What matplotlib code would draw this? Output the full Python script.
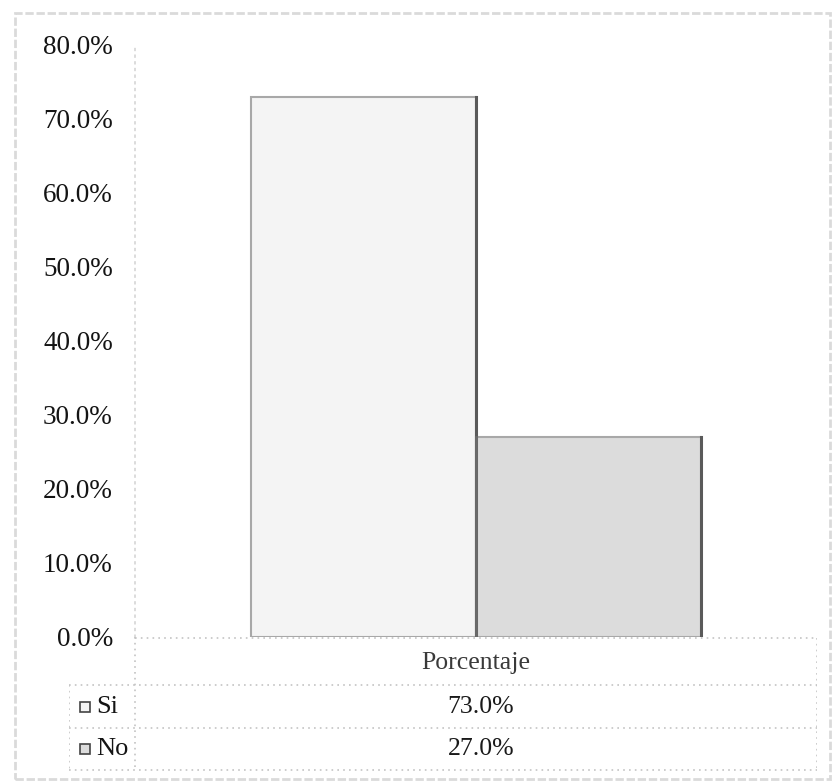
import numpy as np
import matplotlib.pyplot as plt
from matplotlib.patches import Rectangle
from matplotlib.ticker import PercentFormatter

plt.rcParams['font.family'] = ['Liberation Serif', 'DejaVu Serif']

# data
series = ["Si", "No"]
category = "Porcentaje"
values = [0.73, 0.27]
fills = ["#f4f4f4", "#dcdcdc"]
yticks = np.arange(0, 0.81, 0.1)

W, H = 838, 783
fig = plt.figure(figsize=(W / 100, H / 100), dpi=100)
fig.patch.set_facecolor("white")

# outer chart frame
fig.add_artist(Rectangle((15 / W, 1 - 779 / H), 815 / W, 766 / H,
                         transform=fig.transFigure, fill=False,
                         edgecolor="#dadada", lw=2, linestyle=(0, (3, 1))))

# plot area
ax = fig.add_axes([135 / W, 1 - 637 / H, 682 / W, 592 / H])
ax.set_xlim(-0.5, 0.5)
ax.set_ylim(0, 0.8)
bw = 0.33
xs = [-bw / 2, bw / 2]
bars = ax.bar(xs, values, width=bw, color=fills, edgecolor="#a8a8a8", lw=1.5, zorder=2)
# darker right-hand edges of the columns
for b in bars:
    ax.plot([b.get_x() + b.get_width()] * 2, [0, b.get_height()],
            color="#5a5a5a", lw=2.2, zorder=3)
ax.plot([bars[1].get_x()] * 2, [0, bars[1].get_height()], color="#6a6a6a", lw=2, zorder=3)

ax.set_yticks(yticks)
ax.yaxis.set_major_formatter(PercentFormatter(1, decimals=1))
ax.tick_params(axis="y", length=0, pad=16, labelsize=19.5, labelcolor="#141414")
ax.set_xticks([])
for s in ["top", "right", "bottom"]:
    ax.spines[s].set_visible(False)
ax.spines["left"].set_color("#d6d6d6")
ax.spines["left"].set_linestyle((0, (1, 3)))
ax.spines["left"].set_linewidth(1.2)

# data table below the plot
tb = fig.add_axes([69 / W, 1 - 771 / H, 748 / W, 134 / H])
tb.set_xlim(69, 817)
tb.set_ylim(771, 637)
tb.axis("off")
grid = dict(color="#c4c4c4", lw=1.2, linestyle=(0, (1, 2.5)))
tb.plot([135, 817], [638, 638], **grid)
for y in [685, 728, 770]:
    tb.plot([69, 817], [y, y], **grid)
tb.plot([135, 135], [637, 770], **grid)
tb.plot([69, 69], [685, 770], **grid)
tb.plot([817, 817], [638, 770], **grid)

tb.text(476, 663, category, ha="center", va="center", fontsize=18.5, color="#3a3a3a")
rows_y = [707, 749]
for name, v, fc, y in zip(series, values, fills, rows_y):
    tb.add_patch(Rectangle((80, y - 5), 10, 10, facecolor=fc, edgecolor="#444444", lw=1.2))
    tb.text(96, y, name, ha="left", va="center", fontsize=19, color="#141414")
    tb.text(481, y, f"{v * 100:.1f}%", ha="center", va="center", fontsize=18.5, color="#1a1a1a")

fig.savefig("out.png", dpi=100)
